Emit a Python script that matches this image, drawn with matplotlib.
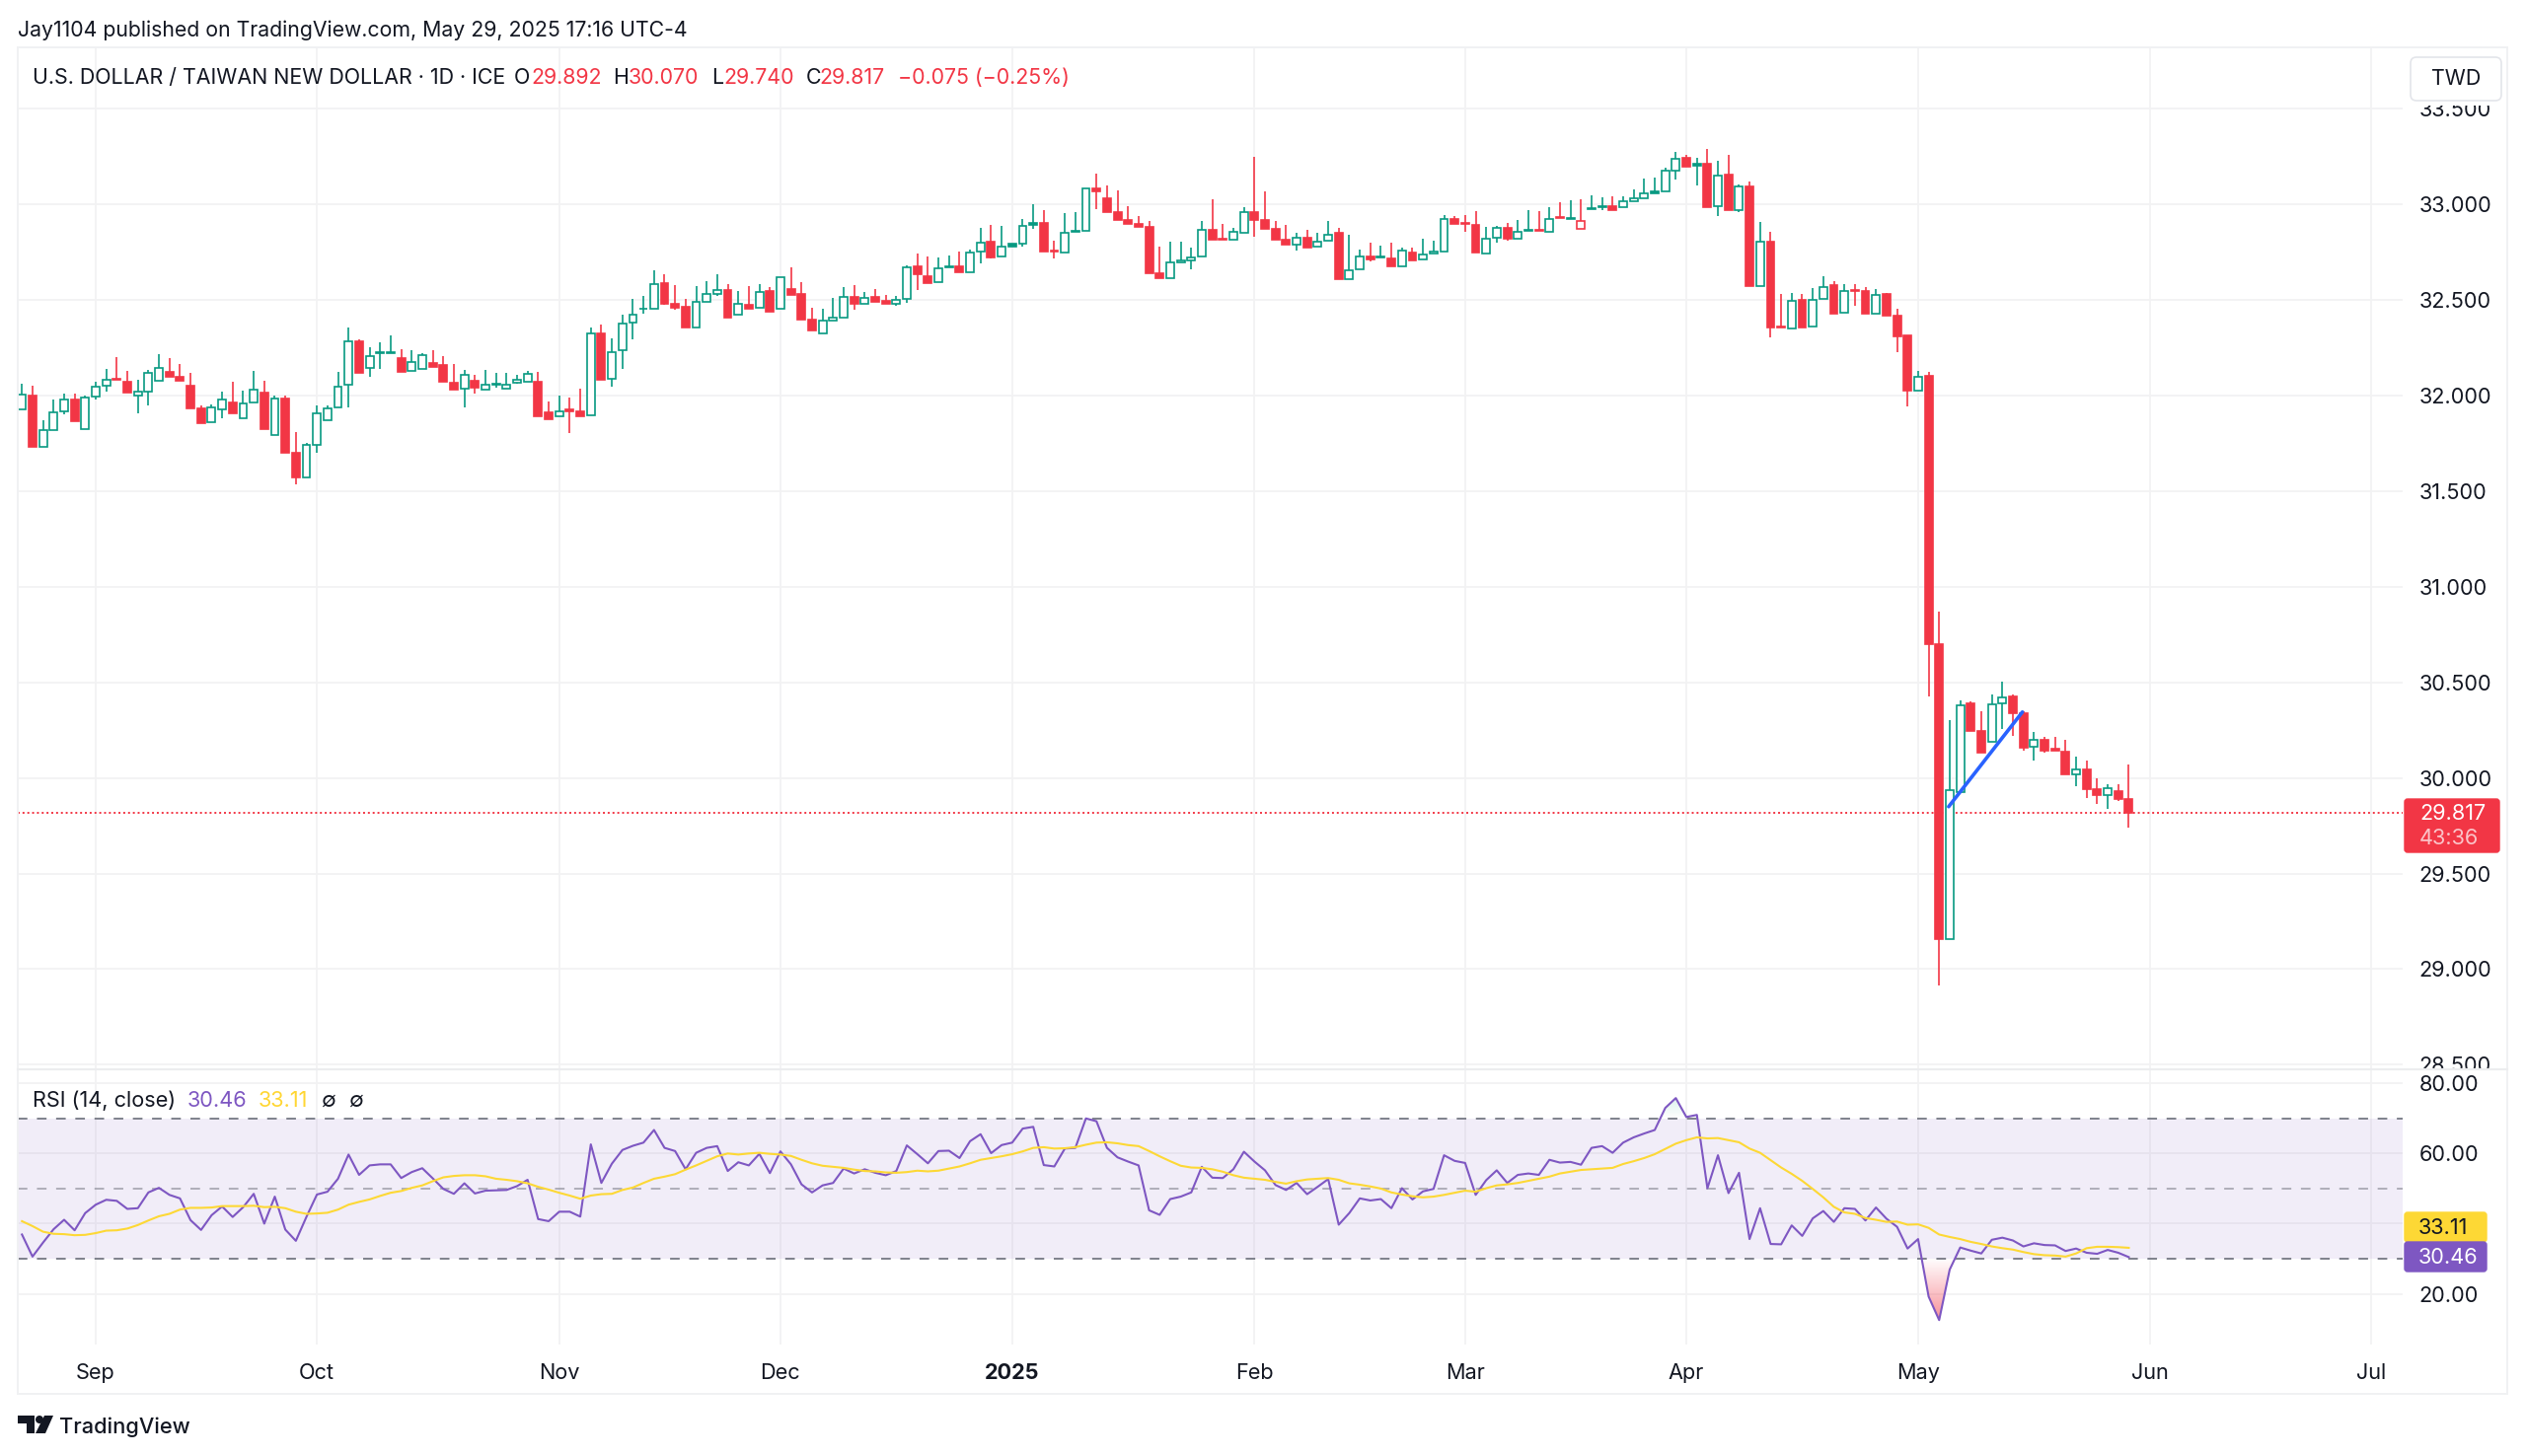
import numpy as np
import matplotlib
matplotlib.use("Agg")
import matplotlib.pyplot as plt
from matplotlib.colors import LinearSegmentedColormap
from matplotlib.patches import FancyBboxPatch, Polygon, Circle, Rectangle

plt.rcParams['font.family'] = ['Inter', 'DejaVu Sans']

# bar number, 0 is 2 Sep 2024, weekdays only
first_bar = -7
opens = [
    31.926, 31.998, 31.733, 31.819, 31.916, 31.981, 31.823, 31.995, 32.050, 32.088,
    32.074, 31.998, 32.022, 32.079, 32.124, 32.101, 32.050, 31.935, 31.861, 31.926,
    31.966, 31.883, 31.964, 32.017, 31.795, 31.985, 31.702, 31.573, 31.744, 31.869,
    31.938, 32.055, 32.286, 32.146, 32.224, 32.224, 32.198, 32.127, 32.138, 32.170,
    32.162, 32.069, 32.036, 32.077, 32.031, 32.057, 32.036, 32.069, 32.074, 32.074,
    31.911, 31.893, 31.926, 31.916, 31.897, 32.327, 32.088, 32.239, 32.380, 32.452,
    32.454, 32.587, 32.481, 32.467, 32.358, 32.491, 32.531, 32.555, 32.426, 32.473,
    32.462, 32.550, 32.457, 32.560, 32.531, 32.397, 32.328, 32.394, 32.407, 32.517,
    32.481, 32.514, 32.495, 32.479, 32.505, 32.675, 32.623, 32.593, 32.673, 32.675,
    32.647, 32.754, 32.804, 32.726, 32.795, 32.797, 32.905, 32.905, 32.757, 32.749,
    32.858, 32.860, 33.085, 33.030, 32.960, 32.920, 32.900, 32.882, 32.642, 32.615,
    32.699, 32.708, 32.726, 32.869, 32.822, 32.814, 32.850, 32.960, 32.918, 32.874,
    32.814, 32.792, 32.828, 32.778, 32.809, 32.850, 32.610, 32.661, 32.730, 32.725,
    32.720, 32.678, 32.749, 32.711, 32.745, 32.752, 32.924, 32.905, 32.891, 32.744,
    32.828, 32.877, 32.822, 32.864, 32.869, 32.855, 32.934, 32.924, 32.874, 32.982,
    32.992, 32.992, 32.984, 33.016, 33.035, 33.071, 33.071, 33.177, 33.243, 33.215,
    33.215, 32.989, 33.155, 32.968, 33.095, 32.575, 32.807, 32.361, 32.353, 32.500,
    32.361, 32.505, 32.579, 32.435, 32.555, 32.546, 32.428, 32.533, 32.417, 32.314,
    32.024, 32.102, 30.700, 29.159, 29.925, 30.390, 30.245, 30.190, 30.393, 30.425,
    30.338, 30.165, 30.200, 30.153, 30.140, 30.020, 30.043, 29.942, 29.912, 29.932,
    29.892]
closes = [
    32.005, 31.733, 31.819, 31.912, 31.978, 31.868, 31.991, 32.046, 32.084, 32.081,
    32.015, 32.019, 32.117, 32.143, 32.098, 32.079, 31.933, 31.857, 31.936, 31.978,
    31.909, 31.960, 32.029, 31.823, 31.983, 31.701, 31.572, 31.742, 31.909, 31.931,
    32.046, 32.284, 32.117, 32.208, 32.229, 32.229, 32.126, 32.177, 32.210, 32.150,
    32.071, 32.033, 32.108, 32.040, 32.057, 32.064, 32.057, 32.083, 32.112, 31.890,
    31.876, 31.917, 31.919, 31.890, 32.325, 32.081, 32.227, 32.375, 32.426, 32.457,
    32.586, 32.478, 32.461, 32.356, 32.493, 32.534, 32.553, 32.406, 32.479, 32.455,
    32.543, 32.438, 32.618, 32.529, 32.397, 32.341, 32.392, 32.409, 32.515, 32.479,
    32.510, 32.493, 32.478, 32.502, 32.673, 32.637, 32.591, 32.666, 32.678, 32.646,
    32.750, 32.802, 32.723, 32.780, 32.781, 32.889, 32.891, 32.752, 32.752, 32.852,
    32.862, 33.083, 33.071, 32.960, 32.917, 32.900, 32.882, 32.641, 32.615, 32.696,
    32.706, 32.723, 32.867, 32.817, 32.817, 32.857, 32.958, 32.920, 32.872, 32.816,
    32.788, 32.824, 32.774, 32.805, 32.840, 32.608, 32.658, 32.726, 32.714, 32.730,
    32.678, 32.761, 32.709, 32.740, 32.752, 32.922, 32.900, 32.900, 32.750, 32.819,
    32.876, 32.821, 32.857, 32.869, 32.862, 32.925, 32.927, 32.929, 32.912, 32.975,
    32.985, 32.973, 33.015, 33.032, 33.056, 33.059, 33.176, 33.241, 33.198, 33.201,
    32.987, 33.152, 32.968, 33.093, 32.575, 32.803, 32.354, 32.356, 32.498, 32.359,
    32.503, 32.567, 32.431, 32.548, 32.550, 32.428, 32.529, 32.419, 32.312, 32.024,
    32.099, 30.700, 29.157, 29.937, 30.380, 30.245, 30.135, 30.385, 30.423, 30.338,
    30.158, 30.198, 30.143, 30.145, 30.018, 30.043, 29.942, 29.912, 29.947, 29.892,
    29.817]
highs = [
    32.064, 32.053, 31.871, 31.981, 32.009, 32.009, 32.002, 32.074, 32.138, 32.203,
    32.129, 32.084, 32.136, 32.217, 32.198, 32.167, 32.120, 31.948, 31.952, 32.022,
    32.074, 32.028, 32.129, 32.079, 32.002, 31.998, 31.809, 31.754, 31.948, 31.948,
    32.126, 32.356, 32.292, 32.255, 32.277, 32.315, 32.244, 32.236, 32.222, 32.236,
    32.208, 32.167, 32.134, 32.107, 32.134, 32.120, 32.120, 32.110, 32.129, 32.126,
    31.971, 31.998, 31.991, 32.036, 32.359, 32.370, 32.301, 32.425, 32.505, 32.524,
    32.658, 32.634, 32.579, 32.505, 32.574, 32.601, 32.634, 32.584, 32.546, 32.575,
    32.586, 32.570, 32.618, 32.672, 32.593, 32.461, 32.454, 32.509, 32.569, 32.579,
    32.541, 32.557, 32.529, 32.524, 32.684, 32.745, 32.726, 32.721, 32.735, 32.754,
    32.766, 32.879, 32.893, 32.888, 32.795, 32.924, 33.002, 32.972, 32.809, 32.956,
    32.961, 33.083, 33.160, 33.099, 33.073, 32.992, 32.942, 32.912, 32.781, 32.804,
    32.804, 32.776, 32.915, 33.027, 32.896, 32.877, 32.984, 33.248, 33.069, 32.915,
    32.893, 32.852, 32.869, 32.850, 32.915, 32.877, 32.841, 32.762, 32.800, 32.786,
    32.800, 32.776, 32.776, 32.822, 32.809, 32.946, 32.942, 32.946, 32.966, 32.882,
    32.889, 32.901, 32.917, 32.972, 32.963, 32.985, 33.013, 33.021, 33.027, 33.049,
    33.040, 33.044, 33.044, 33.081, 33.138, 33.141, 33.193, 33.277, 33.260, 33.243,
    33.291, 33.229, 33.261, 33.105, 33.122, 32.911, 32.858, 32.534, 32.538, 32.534,
    32.565, 32.625, 32.598, 32.581, 32.581, 32.570, 32.560, 32.538, 32.452, 32.314,
    32.132, 32.122, 30.868, 30.303, 30.408, 30.403, 30.348, 30.435, 30.505, 30.435,
    30.348, 30.240, 30.215, 30.215, 30.198, 30.113, 30.090, 30.000, 29.967, 29.965,
    30.070]
lows = [
    31.926, 31.733, 31.733, 31.819, 31.902, 31.868, 31.823, 31.981, 32.021, 32.081,
    32.015, 31.909, 31.950, 32.079, 32.098, 32.079, 31.933, 31.857, 31.861, 31.881,
    31.909, 31.883, 31.964, 31.823, 31.795, 31.701, 31.537, 31.573, 31.701, 31.869,
    31.938, 31.940, 32.117, 32.098, 32.139, 32.224, 32.126, 32.127, 32.138, 32.150,
    32.071, 32.033, 31.940, 32.009, 32.031, 32.043, 32.036, 32.062, 32.074, 31.890,
    31.876, 31.893, 31.802, 31.890, 31.897, 32.081, 32.046, 32.139, 32.294, 32.428,
    32.454, 32.474, 32.450, 32.356, 32.358, 32.491, 32.522, 32.406, 32.426, 32.455,
    32.462, 32.438, 32.457, 32.529, 32.397, 32.341, 32.328, 32.394, 32.407, 32.450,
    32.481, 32.493, 32.478, 32.471, 32.483, 32.551, 32.591, 32.593, 32.673, 32.646,
    32.647, 32.692, 32.716, 32.726, 32.781, 32.780, 32.872, 32.752, 32.718, 32.749,
    32.858, 32.860, 32.977, 32.960, 32.917, 32.900, 32.882, 32.641, 32.615, 32.615,
    32.699, 32.659, 32.726, 32.817, 32.817, 32.814, 32.850, 32.831, 32.872, 32.816,
    32.788, 32.761, 32.774, 32.778, 32.809, 32.608, 32.610, 32.661, 32.701, 32.725,
    32.678, 32.678, 32.709, 32.711, 32.745, 32.752, 32.900, 32.857, 32.750, 32.744,
    32.800, 32.810, 32.822, 32.864, 32.862, 32.855, 32.927, 32.924, 32.874, 32.975,
    32.968, 32.973, 32.984, 33.016, 33.035, 33.059, 33.071, 33.129, 33.198, 33.102,
    32.987, 32.941, 32.968, 32.958, 32.575, 32.575, 32.303, 32.356, 32.353, 32.359,
    32.361, 32.505, 32.431, 32.435, 32.469, 32.428, 32.428, 32.419, 32.227, 31.946,
    32.024, 30.425, 28.917, 29.159, 29.925, 30.245, 30.135, 30.190, 30.258, 30.220,
    30.145, 30.093, 30.133, 30.145, 30.018, 29.955, 29.897, 29.865, 29.840, 29.880,
    29.740]
# g = close above previous close, r = below
bar_colors = (
    "grgggrgggr" "rgggrrrrgg" "rggrgrrggg" "ggrgggrggr"
    "rrgrgggggr" "rgrrgrgggg" "grrrgggrgr" "grgrrrgggr"
    "grrggrrggr" "ggrggggrrg" "ggrrrrrrrg" "gggrrggrrr"
    "rgrggrggrg" "rgrgggrrrg" "grggrgrgrg" "grggggggrg"
    "rgrgrgrrgr" "ggrgrrgrrr" "grrggrrggr" "rgrrrgrrgr" "r")

rsi = [
    36.9, 30.6, 34.6, 38.4, 41.1, 38.1, 43.0, 45.4, 46.8, 46.5,
    44.2, 44.4, 48.9, 50.2, 48.2, 47.2, 41.0, 38.2, 42.4, 44.9,
    41.9, 44.7, 48.5, 40.0, 47.7, 38.3, 35.1, 41.9, 48.3, 49.1,
    52.8, 59.7, 53.9, 56.6, 56.9, 56.9, 53.0, 54.7, 55.8, 52.9,
    49.9, 48.5, 51.5, 48.6, 49.4, 49.5, 49.6, 50.7, 52.5, 41.3,
    40.7, 43.4, 43.4, 42.0, 62.6, 51.6, 57.1, 61.0, 62.2, 63.1,
    66.7, 61.6, 60.7, 55.5, 60.2, 61.6, 62.1, 55.0, 57.5, 56.6,
    59.9, 54.4, 60.6, 56.9, 51.2, 48.9, 50.9, 51.6, 55.7, 54.3,
    55.5, 54.5, 53.8, 55.0, 62.3, 59.8, 57.2, 60.7, 60.8, 58.7,
    63.5, 65.5, 60.1, 62.4, 63.1, 67.1, 67.6, 56.7, 56.3, 61.4,
    61.6, 70.0, 69.2, 61.6, 58.9, 57.7, 56.6, 43.8, 42.5, 47.0,
    47.7, 48.9, 56.2, 53.1, 53.0, 55.5, 60.5, 57.7, 55.2, 51.0,
    49.6, 51.6, 48.4, 50.5, 52.7, 39.7, 43.0, 47.2, 46.6, 47.0,
    44.4, 50.1, 46.9, 49.2, 49.9, 59.5, 57.9, 57.3, 48.2, 52.4,
    55.2, 51.6, 53.9, 54.3, 53.9, 58.2, 57.4, 57.6, 56.8, 61.6,
    62.1, 60.2, 63.1, 64.6, 65.7, 66.7, 73.0, 75.8, 70.4, 71.0,
    50.1, 59.5, 48.7, 54.5, 35.6, 44.4, 34.2, 34.1, 39.5, 36.5,
    41.5, 43.6, 40.5, 44.4, 44.2, 40.9, 44.6, 41.4, 39.1, 32.9,
    35.6, 19.2, 12.5, 26.9, 33.2, 32.3, 31.5, 35.4, 36.0, 35.2,
    33.5, 34.4, 33.9, 33.8, 32.2, 32.9, 31.7, 31.4, 32.5, 31.7,
    30.46]
rsi_ma = [
    40.7, 39.3, 37.7, 37.1, 37.0, 36.7, 36.8, 37.3, 38.0, 38.1,
    38.6, 39.6, 40.9, 42.1, 42.8, 44.0, 44.5, 44.5, 44.6, 45.0,
    45.0, 45.0, 45.1, 44.7, 44.8, 44.4, 43.4, 42.8, 42.9, 43.1,
    44.0, 45.4, 46.2, 46.9, 47.9, 48.8, 49.3, 50.2, 50.9, 52.1,
    53.2, 53.6, 53.8, 53.8, 53.5, 52.8, 52.5, 52.1, 51.5, 50.5,
    49.7, 48.8, 48.0, 47.1, 48.0, 48.4, 48.5, 49.6, 50.3, 51.6,
    52.8, 53.4, 54.1, 55.4, 56.6, 57.9, 59.2, 60.0, 59.7, 60.0,
    60.2, 59.9, 59.7, 59.3, 58.2, 57.2, 56.5, 56.2, 55.9, 55.4,
    55.0, 54.9, 54.6, 54.5, 54.7, 55.1, 54.9, 55.1, 55.7, 56.3,
    57.2, 58.2, 58.7, 59.2, 59.8, 60.6, 61.6, 61.8, 61.4, 61.5,
    61.8, 62.5, 63.1, 63.2, 62.9, 62.4, 62.1, 60.7, 59.2, 57.8,
    56.5, 56.0, 55.9, 55.5, 54.8, 53.8, 53.1, 52.8, 52.5, 51.9,
    51.4, 52.1, 52.6, 52.8, 53.0, 52.5, 51.5, 51.1, 50.6, 50.0,
    48.9, 48.3, 47.8, 47.5, 47.7, 48.2, 48.8, 49.4, 49.1, 50.1,
    50.9, 51.2, 51.6, 52.2, 52.8, 53.4, 54.3, 54.8, 55.3, 55.5,
    55.7, 55.9, 57.0, 57.8, 58.7, 59.8, 61.3, 62.8, 63.8, 64.6,
    64.3, 64.4, 63.8, 63.2, 61.4, 60.2, 58.1, 56.0, 54.2, 52.2,
    49.9, 47.5, 44.8, 43.2, 42.8, 41.6, 41.1, 40.5, 40.6, 39.7,
    39.8, 38.8, 36.9, 36.2, 35.6, 34.8, 34.2, 33.5, 33.0, 32.6,
    31.9, 31.3, 31.0, 30.9, 30.6, 31.5, 33.0, 33.4, 33.4, 33.3,
    33.11]

month_bars = [0, 21, 44, 65, 87, 110, 130, 151, 173, 195, 216]
month_labels = ["Sep", "Oct", "Nov", "Dec", "2025", "Feb", "Mar", "Apr", "May", "Jun", "Jul"]
price_ticks = [28.5, 29.0, 29.5, 30.0, 30.5, 31.0, 31.5, 32.0, 32.5, 33.0, 33.5]
rsi_ticks = [20, 40, 60, 80]
rsi_tick_labels = ["20.00", "", "60.00", "80.00"]  # 40.00 sits behind the tags
rsi_levels = [70, 50, 30]
trend_bars = [175.9, 182.9]
trend_prices = [29.85, 30.345]
last_price = 29.817

GREEN = "#089981"
RED = "#F23645"
PURPLE = "#7E57C2"
YELLOW = "#FDD835"
TEXT = "#131722"
GRID = "#F2F2F3"
W, H = 2560, 1476

bars = np.arange(first_bar, first_bar + len(opens))
opens = np.array(opens)
closes = np.array(closes)
highs = np.array(highs)
lows = np.array(lows)
rsi = np.array(rsi)
rsi_ma = np.array(rsi_ma)


def pane(left, top, right, bottom):
    return fig.add_axes([left / W, 1 - bottom / H, (right - left) / W, (bottom - top) / H])


fig = plt.figure(figsize=(W / 100, H / 100), dpi=100, facecolor="white")
ax = pane(18, 48, 2435, 1084)
ax2 = pane(18, 1084, 2435, 1363)

xlim = (-7.4, 219.0)
for a in (ax, ax2):
    a.set_facecolor("none")
    for s in a.spines.values():
        s.set_visible(False)
    a.yaxis.tick_right()
    a.set_xticks(month_bars)
    a.grid(True, color=GRID, lw=1.3)
    a.set_axisbelow(True)
    a.tick_params(length=0, labelsize=15.6, labelcolor=TEXT, pad=12)

# candles
is_green = np.array([c == "g" for c in bar_colors])
body_top = np.maximum(opens, closes)
body_bot = np.minimum(opens, closes)
colors = np.where(is_green, GREEN, RED)
hollow = closes > opens
ax.axhline(last_price, color=RED, lw=1.4, ls=(0, (1, 1.5)), zorder=1.5)
ax.vlines(bars, body_top, highs, colors=colors, lw=1.2, zorder=2)
ax.vlines(bars, lows, body_bot, colors=colors, lw=1.2, zorder=2)
ax.bar(bars, body_top - body_bot, bottom=body_bot, width=0.74,
       color=np.where(hollow, "white", colors), edgecolor=colors, lw=1.2, zorder=3)
ax.plot(trend_bars, trend_prices, color="#2962FF", lw=2.6, solid_capstyle="round", zorder=4)

ax.set_xlim(xlim)
ax.set_ylim(28.476, 33.822)
ax.set_yticks(price_ticks)
ax.set_yticklabels(["%.3f" % p for p in price_ticks])
ax.tick_params(axis="x", labelbottom=False)

# rsi pane
ax2.axhspan(30, 70, color=PURPLE, alpha=0.1, lw=0, zorder=1)
for lev in rsi_levels:
    ax2.axhline(lev, color="#787B86", lw=1.4, ls=(0, (5, 5)),
                alpha=0.55 if lev == 50 else 0.95, zorder=1.5)

over = ax2.fill_between(bars, rsi, 70, where=rsi > 70, interpolate=True, color="none")
under = ax2.fill_between(bars, rsi, 30, where=rsi < 30, interpolate=True, color="none")
ramp = np.linspace(0, 1, 256).reshape(-1, 1)
green_map = LinearSegmentedColormap.from_list("ob", [(8 / 255, 153 / 255, 129 / 255, 0), (8 / 255, 153 / 255, 129 / 255, 0.14)])
red_map = LinearSegmentedColormap.from_list("os", [(242 / 255, 54 / 255, 69 / 255, 0), (242 / 255, 54 / 255, 69 / 255, 0.55)])
img = ax2.imshow(ramp[::-1], extent=[xlim[0], xlim[1], 70, rsi.max()], aspect="auto", cmap=green_map, zorder=1.6)
img.set_clip_path(over.get_paths()[0], transform=ax2.transData)
img = ax2.imshow(ramp, extent=[xlim[0], xlim[1], rsi.min(), 30], aspect="auto", cmap=red_map, zorder=1.6)
img.set_clip_path(under.get_paths()[0], transform=ax2.transData)

ax2.plot(bars, rsi, color=PURPLE, lw=1.5, zorder=3)
ax2.plot(bars, rsi_ma, color=YELLOW, lw=1.5, zorder=4)
ax2.set_xlim(xlim)
ax2.set_ylim(5.53, 84.0)
ax2.set_yticks(rsi_ticks)
ax2.set_yticklabels(rsi_tick_labels)
ax2.set_xticklabels(month_labels)
ax2.tick_params(axis="x", pad=13.7)
ax2.get_xticklabels()[month_labels.index("2025")].set_fontweight("bold")

# page furniture drawn in pixel coordinates on top
top = fig.add_axes([0, 0, 1, 1], zorder=5)
top.set_xlim(0, W)
top.set_ylim(H, 0)
top.axis("off")
top.patch.set_visible(False)

# white strips cut the top of 33.500 and the bottom of 28.500
top.add_patch(Rectangle((2436, 49), 104, 58, fc="white", ec="none"))
top.add_patch(Rectangle((2436, 1085), 104, 5, fc="white", ec="none"))
top.add_patch(Rectangle((18, 48), 2523, 1365, fc="none", ec="#F0F1F3", lw=1.4))
top.plot([18, 2541], [1084, 1084], color="#ECEDEF", lw=1.6)


def label(x, y, s, color=TEXT, size=15.6, **kw):
    top.text(x, y, s, color=color, fontsize=size, va="center", ha=kw.pop("ha", "left"), **kw)


label(18, 31, "Jay1104 published on TradingView.com, May 29, 2025 17:16 UTC-4", size=15.3)

label(33, 79, "U.S. DOLLAR / TAIWAN NEW DOLLAR · 1D · ICE", size=15.4)
for x, s, c in [(521, "O", TEXT), (538, "29.892", RED), (621, "H", TEXT), (637, "30.070", RED),
                (721, "L", TEXT), (733, "29.740", RED), (817, "C", TEXT), (830, "29.817", RED),
                (910, "−0.075 (−0.25%)", RED)]:
    label(x, 79, s, color=c, size=15.4)

label(33, 1116, "RSI (14, close)", size=15.6)
label(190, 1116, "30.46", color=PURPLE, size=15.6)
label(262, 1116, "33.11", color="#FFD633", size=15.6)
label(326, 1116, "∅", size=15.6)
label(354, 1116, "∅", size=15.6)

# TWD button
top.add_patch(FancyBboxPatch((2443, 58), 92, 44, boxstyle="round,pad=0,rounding_size=6", fc="white", ec="#E3E5EA", lw=1.2))
label(2489, 80, "TWD", ha="center", size=15.4)

# last price tag
top.add_patch(FancyBboxPatch((2437, 810), 96, 54, boxstyle="round,pad=0,rounding_size=3", fc=RED, ec=RED, lw=1))
label(2452, 825, "29.817", color="white")
label(2452, 850, "43:36", color="#FBC4C9")

# rsi tags
top.add_patch(FancyBboxPatch((2437, 1229), 83, 30, boxstyle="round,pad=0,rounding_size=3", fc="#FDD835", ec="#FDD835", lw=1))
label(2451, 1245, "33.11")
top.add_patch(FancyBboxPatch((2437, 1259), 83, 30, boxstyle="round,pad=0,rounding_size=3", fc=PURPLE, ec=PURPLE, lw=1))
label(2451, 1275, "30.46", color="white")

# logo
top.add_patch(Polygon([(18, 1435), (35, 1435), (35, 1453), (27, 1453), (27, 1443), (18, 1443)], fc=TEXT, ec="none"))
top.add_patch(Circle((40, 1439), 4, fc=TEXT, ec="none"))
top.add_patch(Polygon([(45, 1435), (54, 1435), (46, 1453), (36, 1453)], fc=TEXT, ec="none"))
label(60, 1447, "TradingView", size=15.7, fontweight="medium")

fig.savefig("out.png", dpi=100)
